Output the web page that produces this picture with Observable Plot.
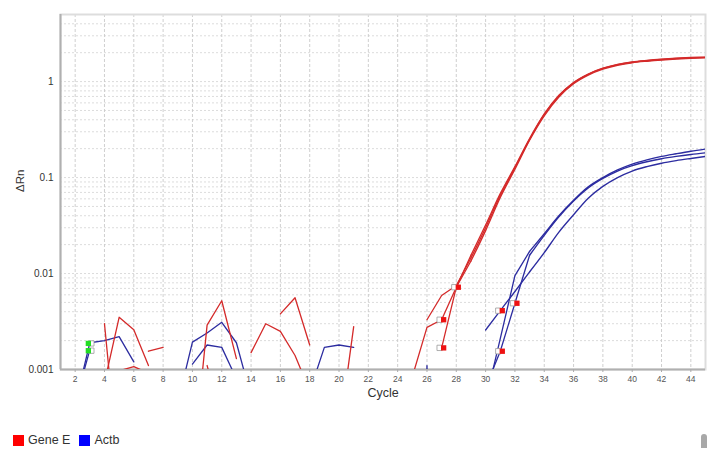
<!DOCTYPE html>
<html>
<head>
<meta charset="utf-8">
<script src="https://cdn.jsdelivr.net/npm/d3@7"></script>
<script src="https://cdn.jsdelivr.net/npm/@observablehq/plot@0.6"></script>
<style>
  body { margin: 0; background: #fff; font-family: "Liberation Sans", Arial, sans-serif; }
  #chart { position: absolute; left: 0; top: 0; }
  #legend { position: absolute; left: 13px; top: 433px; display: flex; align-items: center; font-size: 12.5px; color: #333; }
  #legend .sw { width: 11px; height: 11px; display: inline-block; margin-right: 4px; }
  #legend .item { display: flex; align-items: center; margin-right: 9px; }
  #scroll { position: absolute; left: 701px; top: 434px; width: 6px; height: 14px; background: #a8a8a8; border-radius: 3px 3px 0 0; }
</style>
</head>
<body>
<div id="chart"></div>
<div id="legend"></div>
<div id="scroll"></div>
<script>
// ---- axes / ticks ----
const xDomain = [1, 45];
const yDomain = [0.001, 5];
const xTicks = [2, 4, 6, 8, 10, 12, 14, 16, 18, 20, 22, 24, 26, 28, 30, 32, 34, 36, 38, 40, 42, 44];
const yTicks = [0.001, 0.01, 0.1, 1];
const yGridValues = [0.001, 0.002, 0.003, 0.004, 0.005, 0.006, 0.007, 0.008, 0.009,
  0.01, 0.02, 0.03, 0.04, 0.05, 0.06, 0.07, 0.08, 0.09,
  0.1, 0.2, 0.3, 0.4, 0.5, 0.6, 0.7, 0.8, 0.9,
  1, 2, 3, 4, 5];

// ---- series ----
const genes = ["Gene E", "Actb"];
const lineColors = ["#d42a2a", "#2c2ca0"];
const legendColors = ["#ff0000", "#0000ff"];
// cycle from which the exponential/plateau part is drawn smoothed
const smoothFrom = {"Gene E": 29, "Actb": 33};

// Gene E amplification traces [cycle, ΔRn]
const geneE_A = [[25,0.00084],[26,0.00275],[27,0.0033],[28,0.0072],[29,0.0135],[30,0.028],[31,0.062],[32,0.122],[33,0.245],[34,0.44],[35,0.69],[36,0.95],[37,1.17],[38,1.35],[39,1.48],[40,1.57],[41,1.63],[42,1.68],[43,1.72],[44,1.75],[45,1.77]];
const geneE_B = [[26,0.0033],[27,0.0059],[28,0.0075],[29,0.0145],[30,0.03],[31,0.065],[32,0.127],[33,0.25],[34,0.455],[35,0.71],[36,0.97],[37,1.19],[38,1.37],[39,1.5],[40,1.59],[41,1.65],[42,1.7],[43,1.74],[44,1.77],[45,1.79]];
const geneE_C = [[27,0.00168],[28,0.0072],[29,0.0155],[30,0.032],[31,0.068],[32,0.13],[33,0.255],[34,0.46],[35,0.72],[36,0.98],[37,1.2],[38,1.38],[39,1.51],[40,1.6],[41,1.66],[42,1.71],[43,1.75],[44,1.78],[45,1.8]];
// Gene E baseline noise segments
const geneE_n1 = [[4,0.003],[5,0.00008]];
const geneE_n2 = [[4,0.00073],[5,0.0035],[6,0.0026],[7,0.0011]];
const geneE_n3 = [[5,0.00097],[6,0.00107],[7,0.00092]];
const geneE_n4 = [[7,0.00155],[8,0.0017]];
const geneE_n5 = [[10,0.000085],[11,0.0029],[12,0.0052],[13,0.0013]];
const geneE_n6 = [[11,0.0011],[12,0.0003]];
const geneE_n7 = [[14,0.0015],[15,0.003],[16,0.0025],[17,0.0014],[18,0.0006]];
const geneE_n8 = [[16,0.0038],[17,0.0056],[18,0.0018]];
const geneE_n9 = [[20,0.00021],[21,0.0028]];

// Actb amplification traces
const actb_D = [[30,0.00258],[31,0.0041],[32,0.0065],[33,0.0104],[34,0.0165],[35,0.027],[36,0.041],[37,0.061],[38,0.081],[39,0.1],[40,0.117],[41,0.13],[42,0.141],[43,0.15],[44,0.158],[45,0.166]];
const actb_E = [[30,0.00047],[31,0.0021],[32,0.0095],[33,0.017],[34,0.026],[35,0.04],[36,0.058],[37,0.08],[38,0.1],[39,0.12],[40,0.138],[41,0.153],[42,0.166],[43,0.177],[44,0.188],[45,0.198]];
const actb_F = [[30,0.00065],[31,0.00155],[32,0.0049],[33,0.0155],[34,0.025],[35,0.039],[36,0.057],[37,0.078],[38,0.098],[39,0.117],[40,0.133],[41,0.146],[42,0.157],[43,0.166],[44,0.174],[45,0.181]];
// Actb baseline noise segments
const actb_n1 = [[2,0.00043],[3,0.0019],[4,0.002],[5,0.0022],[6,0.0012]];
const actb_n2 = [[2,0.00045],[3,0.0016]];
const actb_n3 = [[9,0.00045],[10,0.00193],[11,0.0024],[12,0.0031],[13,0.0019],[14,0.00052]];
const actb_n4 = [[10,0.00114],[11,0.0018],[12,0.0017],[13,0.0008]];
const actb_n5 = [[18,0.00059],[19,0.0017],[20,0.0018],[21,0.0017]];
const actb_n6 = [[25,1e-9],[26,0.0011],[27,1e-9]];

// threshold-crossing markers
const geneE_markCycles = [27, 28, 27];
const geneE_markValues = [0.0033, 0.0072, 0.00168];
const actb_markCycles = [31, 32, 31];
const actb_markValues = [0.0041, 0.0049, 0.00155];
const green_markCycles = [2.9, 2.9];
const green_markValues = [0.00187, 0.00157];

// ---- build tables ----
const ampTraces = [
  ["Actb", "D", actb_D], ["Actb", "E", actb_E], ["Actb", "F", actb_F],
  ["Gene E", "A", geneE_A], ["Gene E", "B", geneE_B], ["Gene E", "C", geneE_C]
];
const noiseTraces = [
  ["Actb", "n1", actb_n1], ["Actb", "n2", actb_n2], ["Actb", "n3", actb_n3],
  ["Actb", "n4", actb_n4], ["Actb", "n5", actb_n5], ["Actb", "n6", actb_n6],
  ["Gene E", "n1", geneE_n1], ["Gene E", "n2", geneE_n2], ["Gene E", "n3", geneE_n3],
  ["Gene E", "n4", geneE_n4], ["Gene E", "n5", geneE_n5], ["Gene E", "n6", geneE_n6],
  ["Gene E", "n7", geneE_n7], ["Gene E", "n8", geneE_n8], ["Gene E", "n9", geneE_n9]
];
const toRows = list => list.flatMap(([gene, id, pts]) =>
  pts.map(([cycle, value]) => ({gene, id: gene + "-" + id, cycle, value})));
const ampRows = toRows(ampTraces);
const noiseRows = toRows(noiseTraces);
const ampLow = ampRows.filter(d => d.cycle <= smoothFrom[d.gene]);
const ampHigh = ampRows.filter(d => d.cycle >= smoothFrom[d.gene]);

const redMarks = geneE_markCycles.map((c, i) => ({cycle: c, value: geneE_markValues[i]}))
  .concat(actb_markCycles.map((c, i) => ({cycle: c, value: actb_markValues[i]})));
const greenMarks = green_markCycles.map((c, i) => ({cycle: c, value: green_markValues[i]}));

const chart = Plot.plot({
  width: 708,
  height: 405,
  marginLeft: 60,
  marginRight: 3,
  marginTop: 14,
  marginBottom: 36,
  style: {fontFamily: "'Liberation Sans', Arial, sans-serif", background: "white", color: "#444"},
  x: {domain: xDomain, label: null},
  y: {type: "log", domain: yDomain, label: null},
  color: {domain: genes, range: lineColors},
  marks: [
    Plot.ruleY(yGridValues, {stroke: "#d8d8d8", strokeDasharray: "2,2", strokeWidth: 0.9}),
    Plot.ruleX(xTicks, {stroke: "#cacaca", strokeDasharray: "3,2", strokeWidth: 0.9}),
    Plot.frame({stroke: "#dddddd", strokeWidth: 2}),
    Plot.ruleX([xDomain[0]], {stroke: "#b0b0b0", strokeWidth: 2}),
    Plot.ruleY([yDomain[0]], {stroke: "#b0b0b0", strokeWidth: 2}),
    Plot.axisX({ticks: xTicks, tickSize: 3, tickPadding: 3, fontSize: 8.5, stroke: "#aaa", fill: "#555", label: null}),
    Plot.axisY({ticks: yTicks, tickFormat: d => String(d), tickSize: 0, tickPadding: 7, fontSize: 10, fill: "#333", label: null}),
    Plot.line(noiseRows, {x: "cycle", y: "value", z: "id", stroke: "gene", strokeWidth: 1.3, clip: true}),
    Plot.line(ampLow, {x: "cycle", y: "value", z: "id", stroke: "gene", strokeWidth: 1.3, clip: true}),
    Plot.line(ampHigh, {x: "cycle", y: "value", z: "id", stroke: "gene", strokeWidth: 1.35, curve: "monotone-x", clip: true}),
    Plot.dot(redMarks, {x: "cycle", y: "value", symbol: "square", r: 3, fill: "white", stroke: "#999", strokeWidth: 0.8, dx: -2}),
    Plot.dot(redMarks, {x: "cycle", y: "value", symbol: "square", r: 3, fill: "#ee1111", dx: 2}),
    Plot.dot(greenMarks, {x: "cycle", y: "value", symbol: "square", r: 3, fill: "white", stroke: "#999", strokeWidth: 0.8, dx: 3}),
    Plot.dot(greenMarks, {x: "cycle", y: "value", symbol: "square", r: 3, fill: "#22dd22"}),
    Plot.text(["Cycle"], {frameAnchor: "bottom", dy: 27, fontSize: 12.5, fill: "#333"}),
    Plot.text(["ΔRn"], {frameAnchor: "left", dx: -40, rotate: -90, fontSize: 11.5, fill: "#333"})
  ]
});
document.getElementById("chart").appendChild(chart);

const legend = document.getElementById("legend");
genes.forEach((g, i) => {
  const item = document.createElement("span");
  item.className = "item";
  const sw = document.createElement("span");
  sw.className = "sw";
  sw.style.background = legendColors[i];
  item.appendChild(sw);
  item.appendChild(document.createTextNode(g));
  legend.appendChild(item);
});
</script>
</body>
</html>
